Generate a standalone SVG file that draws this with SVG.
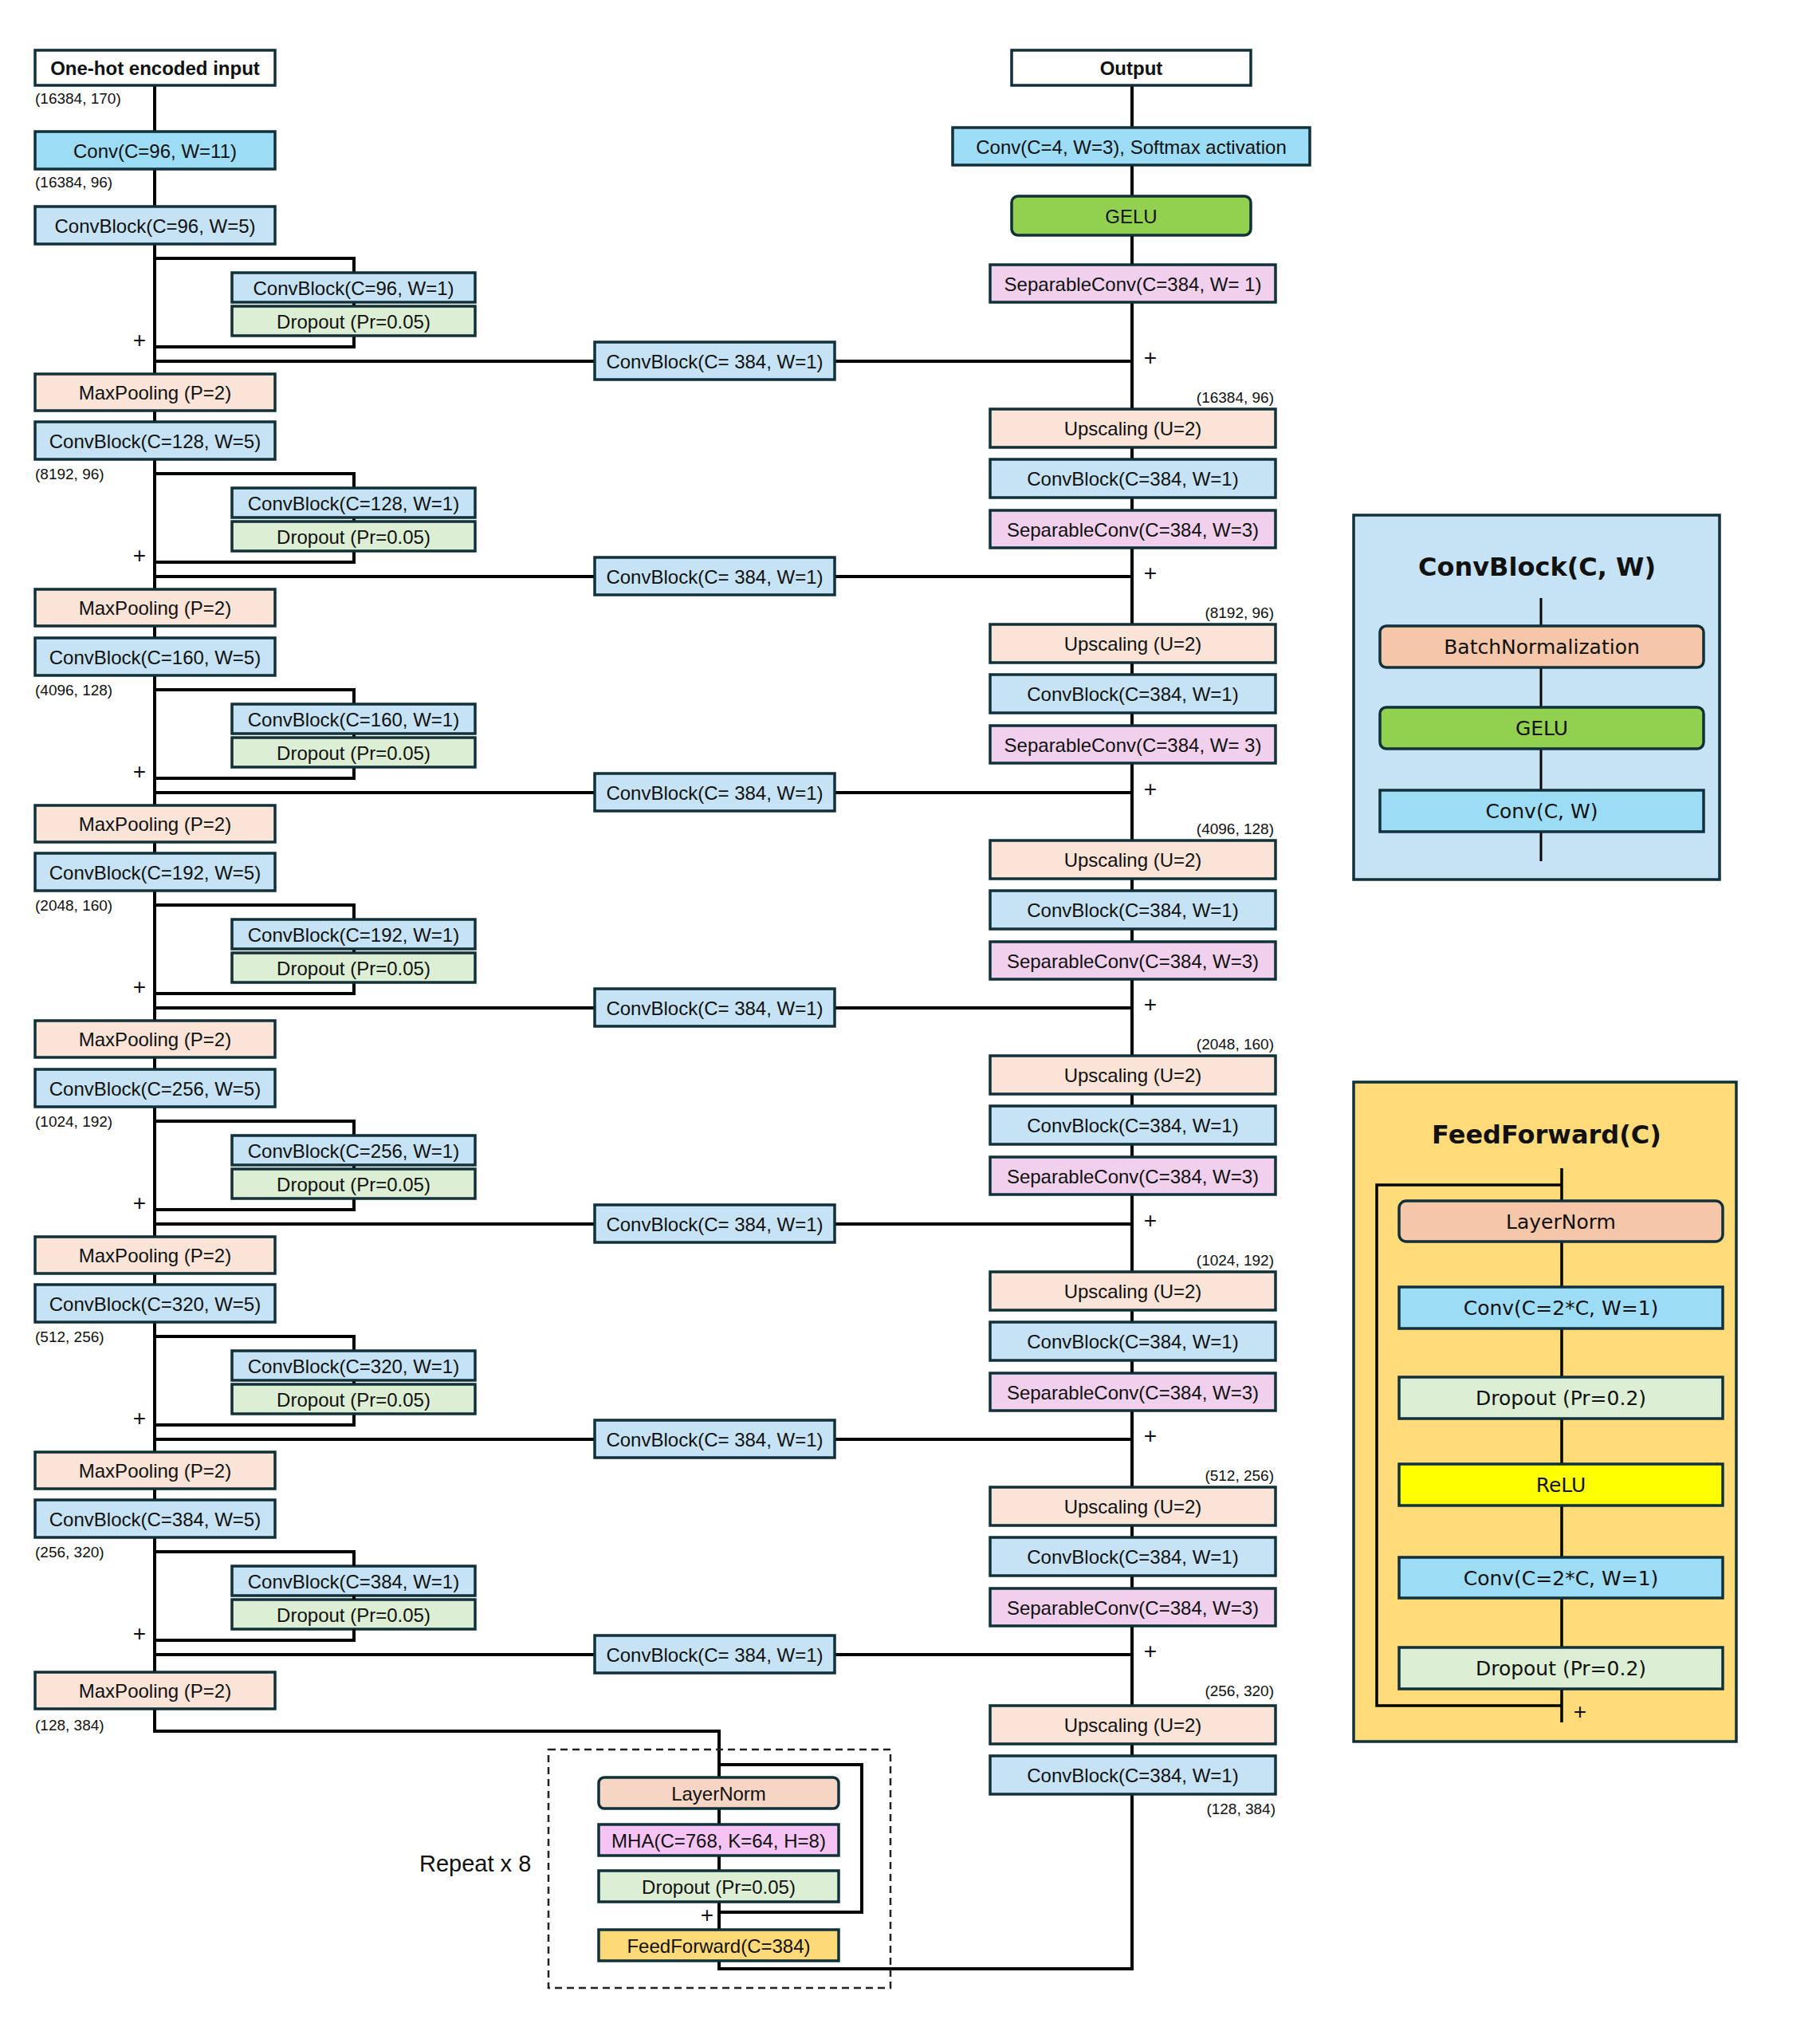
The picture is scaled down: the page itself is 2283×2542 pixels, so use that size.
<svg xmlns="http://www.w3.org/2000/svg" width="2283" height="2542" viewBox="0 0 2283 2542">
<style>
.b{stroke:#10303a;stroke-width:3.5}
.cb{fill:#c5e3f5}.cv{fill:#9ddcf5}.dp{fill:#dcefd4}.mp{fill:#fae3d7}.sc{fill:#f0d0ec}.ln{fill:#f7d5c4}.mha{fill:#f5c4f5}.ff{fill:#fdd978}.ge{fill:#92d050}.wh{fill:#fff}
text{font-family:"Liberation Sans",Arial,sans-serif;fill:#111}
.t{font-size:24px;text-anchor:middle;dominant-baseline:central}
.tb{font-size:24px;font-weight:bold;text-anchor:middle;dominant-baseline:central}
.d{font-size:19px}
.dr{font-size:19px;text-anchor:end}
.p{font-size:28px;text-anchor:middle}
.L{font-family:"DejaVu Sans",sans-serif;font-size:25px;text-anchor:middle;dominant-baseline:central}
.LT{font-family:"DejaVu Sans",sans-serif;font-size:32px;font-weight:bold;text-anchor:middle;dominant-baseline:central}
.w{fill:none;stroke:#000;stroke-width:4}
</style>
<rect width="2283" height="2542" fill="#fff"/>
<g id="connectors" class="w">
<path d="M194 107V2171H902V2229"/>
<path d="M1420 107V2469H902V2459"/>
<path d="M902 2268V2420"/>
<path d="M902 2213H1081V2398H902"/>
<path d="M194 324H444V342M444 379V384M444 421V435H194"/>
<path d="M194 594H444V612M444 649V654M444 691V705H194"/>
<path d="M194 865H444V883M444 920V925M444 962V976H194"/>
<path d="M194 1135H444V1153M444 1190V1195M444 1232V1246H194"/>
<path d="M194 1406H444V1424M444 1461V1466M444 1503V1517H194"/>
<path d="M194 1676H444V1694M444 1731V1736M444 1773V1787H194"/>
<path d="M194 453H1420M194 723H1420M194 994H1420M194 1264H1420M194 1535H1420M194 1805H1420M194 2075H1420"/>
</g>
<g id="left">
<g id="in"><rect class="b wh" x="44" y="63" width="301" height="44"/><text class="tb" x="194.5" y="85">One-hot encoded input</text></g>
<text class="d" x="44" y="130">(16384, 170)</text>
<g id="conv0"><rect class="b cv" x="44" y="165" width="301" height="47"/><text class="t" x="194.5" y="189">Conv(C=96, W=11)</text></g>
<text class="d" x="44" y="235">(16384, 96)</text>
<g id="cb0"><rect class="b cb" x="44" y="259" width="301" height="47"/><text class="t" x="194.5" y="283">ConvBlock(C=96, W=5)</text></g>
<g id="cb1"><rect class="b cb" x="44" y="529" width="301" height="47"/><text class="t" x="194.5" y="553">ConvBlock(C=128, W=5)</text></g>
<g id="cb2"><rect class="b cb" x="44" y="800" width="301" height="47"/><text class="t" x="194.5" y="824">ConvBlock(C=160, W=5)</text></g>
<g id="cb3"><rect class="b cb" x="44" y="1070" width="301" height="47"/><text class="t" x="194.5" y="1094">ConvBlock(C=192, W=5)</text></g>
<g id="cb4"><rect class="b cb" x="44" y="1341" width="301" height="47"/><text class="t" x="194.5" y="1365">ConvBlock(C=256, W=5)</text></g>
<g id="cb5"><rect class="b cb" x="44" y="1611" width="301" height="47"/><text class="t" x="194.5" y="1635">ConvBlock(C=320, W=5)</text></g>
<g id="cb6"><rect class="b cb" x="44" y="1881" width="301" height="47"/><text class="t" x="194.5" y="1905">ConvBlock(C=384, W=5)</text></g>
<text class="d" x="44" y="601">(8192, 96)</text>
<text class="d" x="44" y="872">(4096, 128)</text>
<text class="d" x="44" y="1142">(2048, 160)</text>
<text class="d" x="44" y="1413">(1024, 192)</text>
<text class="d" x="44" y="1683">(512, 256)</text>
<text class="d" x="44" y="1953">(256, 320)</text>
<text class="d" x="44" y="2170">(128, 384)</text>
<g id="br0"><rect class="b cb" x="291" y="342" width="305" height="37"/><text class="t" x="443.5" y="361">ConvBlock(C=96, W=1)</text><rect class="b dp" x="291" y="384" width="305" height="37"/><text class="t" x="443.5" y="403">Dropout (Pr=0.05)</text></g>
<g id="br1"><rect class="b cb" x="291" y="612" width="305" height="37"/><text class="t" x="443.5" y="631">ConvBlock(C=128, W=1)</text><rect class="b dp" x="291" y="654" width="305" height="37"/><text class="t" x="443.5" y="673">Dropout (Pr=0.05)</text></g>
<g id="br2"><rect class="b cb" x="291" y="883" width="305" height="37"/><text class="t" x="443.5" y="902">ConvBlock(C=160, W=1)</text><rect class="b dp" x="291" y="925" width="305" height="37"/><text class="t" x="443.5" y="944">Dropout (Pr=0.05)</text></g>
<g id="br3"><rect class="b cb" x="291" y="1153" width="305" height="37"/><text class="t" x="443.5" y="1172">ConvBlock(C=192, W=1)</text><rect class="b dp" x="291" y="1195" width="305" height="37"/><text class="t" x="443.5" y="1214">Dropout (Pr=0.05)</text></g>
<g id="br4"><rect class="b cb" x="291" y="1424" width="305" height="37"/><text class="t" x="443.5" y="1443">ConvBlock(C=256, W=1)</text><rect class="b dp" x="291" y="1466" width="305" height="37"/><text class="t" x="443.5" y="1485">Dropout (Pr=0.05)</text></g>
<g id="br5"><rect class="b cb" x="291" y="1694" width="305" height="37"/><text class="t" x="443.5" y="1713">ConvBlock(C=320, W=1)</text><rect class="b dp" x="291" y="1736" width="305" height="37"/><text class="t" x="443.5" y="1755">Dropout (Pr=0.05)</text></g>
<g id="br6"><rect class="b cb" x="291" y="1964" width="305" height="37"/><text class="t" x="443.5" y="1983">ConvBlock(C=384, W=1)</text><rect class="b dp" x="291" y="2006" width="305" height="37"/><text class="t" x="443.5" y="2025">Dropout (Pr=0.05)</text></g>
<g class="w"><path d="M194 1946H444V1964M444 2001V2006M444 2043V2057H194"/></g>
<text class="p" x="175" y="436">+</text><text class="p" x="175" y="706">+</text><text class="p" x="175" y="977">+</text><text class="p" x="175" y="1247">+</text><text class="p" x="175" y="1518">+</text><text class="p" x="175" y="1788">+</text><text class="p" x="175" y="2058">+</text>
<g id="mp0"><rect class="b mp" x="44" y="469" width="301" height="46"/><text class="t" x="194.5" y="492">MaxPooling (P=2)</text></g>
<g id="mp1"><rect class="b mp" x="44" y="739" width="301" height="46"/><text class="t" x="194.5" y="762">MaxPooling (P=2)</text></g>
<g id="mp2"><rect class="b mp" x="44" y="1010" width="301" height="46"/><text class="t" x="194.5" y="1033">MaxPooling (P=2)</text></g>
<g id="mp3"><rect class="b mp" x="44" y="1280" width="301" height="46"/><text class="t" x="194.5" y="1303">MaxPooling (P=2)</text></g>
<g id="mp4"><rect class="b mp" x="44" y="1551" width="301" height="46"/><text class="t" x="194.5" y="1574">MaxPooling (P=2)</text></g>
<g id="mp5"><rect class="b mp" x="44" y="1821" width="301" height="46"/><text class="t" x="194.5" y="1844">MaxPooling (P=2)</text></g>
<g id="mp6"><rect class="b mp" x="44" y="2097" width="301" height="46"/><text class="t" x="194.5" y="2120">MaxPooling (P=2)</text></g>
</g>
<g id="mid">
<g id="s0"><rect class="b cb" x="746" y="429" width="301" height="47"/><text class="t" x="896.5" y="453">ConvBlock(C= 384, W=1)</text></g>
<g id="s1"><rect class="b cb" x="746" y="699" width="301" height="47"/><text class="t" x="896.5" y="723">ConvBlock(C= 384, W=1)</text></g>
<g id="s2"><rect class="b cb" x="746" y="970" width="301" height="47"/><text class="t" x="896.5" y="994">ConvBlock(C= 384, W=1)</text></g>
<g id="s3"><rect class="b cb" x="746" y="1240" width="301" height="47"/><text class="t" x="896.5" y="1264">ConvBlock(C= 384, W=1)</text></g>
<g id="s4"><rect class="b cb" x="746" y="1511" width="301" height="47"/><text class="t" x="896.5" y="1535">ConvBlock(C= 384, W=1)</text></g>
<g id="s5"><rect class="b cb" x="746" y="1781" width="301" height="47"/><text class="t" x="896.5" y="1805">ConvBlock(C= 384, W=1)</text></g>
<g id="s6"><rect class="b cb" x="746" y="2051" width="301" height="47"/><text class="t" x="896.5" y="2075">ConvBlock(C= 384, W=1)</text></g>
</g>
<g id="transformer">
<rect x="688" y="2194" width="429" height="299" fill="none" stroke="#222" stroke-width="2.5" stroke-dasharray="9 6"/>
<text x="526" y="2347" style="font-size:29px">Repeat x 8</text>
<g id="tln"><rect class="b ln" x="751" y="2229" width="301" height="39" rx="7"/><text class="t" x="901.5" y="2249">LayerNorm</text></g>
<g id="tmha"><rect class="b mha" x="751" y="2288" width="301" height="39"/><text class="t" x="901.5" y="2308">MHA(C=768, K=64, H=8)</text></g>
<g id="tdp"><rect class="b dp" x="751" y="2346" width="301" height="39"/><text class="t" x="901.5" y="2366">Dropout (Pr=0.05)</text></g>
<text class="p" x="887" y="2411">+</text>
<g id="tff"><rect class="b ff" x="751" y="2420" width="301" height="39"/><text class="t" x="901.5" y="2440">FeedForward(C=384)</text></g>
</g>
<g id="right">
<g id="out"><rect class="b wh" x="1269" y="63" width="300" height="44"/><text class="tb" x="1419" y="85">Output</text></g>
<g id="convout"><rect class="b cv" x="1195" y="160" width="448" height="47"/><text class="t" x="1419" y="184">Conv(C=4, W=3),  Softmax activation</text></g>
<g id="gelu"><rect class="b ge" x="1269" y="246" width="300" height="49" rx="8"/><text class="t" x="1419" y="271">GELU</text></g>
<g id="sep"><rect class="b sc" x="1242" y="332" width="358" height="47"/><text class="t" x="1421" y="356">SeparableConv(C=384, W= 1)</text></g>
<text class="p" x="1443" y="458">+</text><text class="p" x="1443" y="728">+</text><text class="p" x="1443" y="999">+</text><text class="p" x="1443" y="1269">+</text><text class="p" x="1443" y="1540">+</text><text class="p" x="1443" y="1810">+</text><text class="p" x="1443" y="2080">+</text>
<text class="dr" x="1598" y="505">(16384, 96)</text>
<text class="dr" x="1598" y="775">(8192, 96)</text>
<text class="dr" x="1598" y="1046">(4096, 128)</text>
<text class="dr" x="1598" y="1316">(2048, 160)</text>
<text class="dr" x="1598" y="1587">(1024, 192)</text>
<text class="dr" x="1598" y="1857">(512, 256)</text>
<text class="dr" x="1598" y="2127">(256, 320)</text>
<text class="dr" x="1600" y="2275">(128, 384)</text>
<g id="r0"><rect class="b mp" x="1242" y="513" width="358" height="48"/><text class="t" x="1421" y="537">Upscaling (U=2)</text><rect class="b cb" x="1242" y="576" width="358" height="48"/><text class="t" x="1421" y="600">ConvBlock(C=384, W=1)</text><rect class="b sc" x="1242" y="640" width="358" height="47"/><text class="t" x="1421" y="664">SeparableConv(C=384, W=3)</text></g>
<g id="r1"><rect class="b mp" x="1242" y="783" width="358" height="48"/><text class="t" x="1421" y="807">Upscaling (U=2)</text><rect class="b cb" x="1242" y="846" width="358" height="48"/><text class="t" x="1421" y="870">ConvBlock(C=384, W=1)</text><rect class="b sc" x="1242" y="910" width="358" height="47"/><text class="t" x="1421" y="934">SeparableConv(C=384, W= 3)</text></g>
<g id="r2"><rect class="b mp" x="1242" y="1054" width="358" height="48"/><text class="t" x="1421" y="1078">Upscaling (U=2)</text><rect class="b cb" x="1242" y="1117" width="358" height="48"/><text class="t" x="1421" y="1141">ConvBlock(C=384, W=1)</text><rect class="b sc" x="1242" y="1181" width="358" height="47"/><text class="t" x="1421" y="1205">SeparableConv(C=384, W=3)</text></g>
<g id="r3"><rect class="b mp" x="1242" y="1324" width="358" height="48"/><text class="t" x="1421" y="1348">Upscaling (U=2)</text><rect class="b cb" x="1242" y="1387" width="358" height="48"/><text class="t" x="1421" y="1411">ConvBlock(C=384, W=1)</text><rect class="b sc" x="1242" y="1451" width="358" height="47"/><text class="t" x="1421" y="1475">SeparableConv(C=384, W=3)</text></g>
<g id="r4"><rect class="b mp" x="1242" y="1595" width="358" height="48"/><text class="t" x="1421" y="1619">Upscaling (U=2)</text><rect class="b cb" x="1242" y="1658" width="358" height="48"/><text class="t" x="1421" y="1682">ConvBlock(C=384, W=1)</text><rect class="b sc" x="1242" y="1722" width="358" height="47"/><text class="t" x="1421" y="1746">SeparableConv(C=384, W=3)</text></g>
<g id="r5"><rect class="b mp" x="1242" y="1865" width="358" height="48"/><text class="t" x="1421" y="1889">Upscaling (U=2)</text><rect class="b cb" x="1242" y="1928" width="358" height="48"/><text class="t" x="1421" y="1952">ConvBlock(C=384, W=1)</text><rect class="b sc" x="1242" y="1992" width="358" height="47"/><text class="t" x="1421" y="2016">SeparableConv(C=384, W=3)</text></g>
<g id="r6"><rect class="b mp" x="1242" y="2139" width="358" height="48"/><text class="t" x="1421" y="2163">Upscaling (U=2)</text><rect class="b cb" x="1242" y="2202" width="358" height="48"/><text class="t" x="1421" y="2226">ConvBlock(C=384, W=1)</text></g>
</g>
<g id="legend-convblock">
<rect class="b" fill="#c5e3f5" x="1698" y="646" width="459" height="457"/>
<text class="LT" x="1928" y="711">ConvBlock(C, W)</text>
<path d="M1933 750V1080" stroke="#000" stroke-width="3"/>
<rect class="b" fill="#f5c6a8" x="1731" y="785" width="406" height="52" rx="8"/><text class="L" x="1934" y="811">BatchNormalization</text>
<rect class="b ge" x="1731" y="887" width="406" height="52" rx="8"/><text class="L" x="1934" y="913">GELU</text>
<rect class="b cv" x="1731" y="991" width="406" height="52"/><text class="L" x="1934" y="1017">Conv(C, W)</text>
</g>
<g id="legend-feedforward">
<rect class="b" fill="#ffdb7a" x="1698" y="1357" width="480" height="827"/>
<text class="LT" x="1940" y="1423">FeedForward(C)</text>
<path d="M1959 1465V2160M1959 1486H1727V2139H1959" fill="none" stroke="#000" stroke-width="3.5"/>
<rect class="b" fill="#f5c6a8" x="1755" y="1506" width="406" height="51" rx="9"/><text class="L" x="1958" y="1532">LayerNorm</text>
<rect class="b cv" x="1755" y="1614" width="406" height="52"/><text class="L" x="1958" y="1640">Conv(C=2*C, W=1)</text>
<rect class="b dp" x="1755" y="1727" width="406" height="52"/><text class="L" x="1958" y="1753">Dropout (Pr=0.2)</text>
<rect class="b" fill="#ffff00" x="1755" y="1836" width="406" height="52"/><text class="L" x="1958" y="1862">ReLU</text>
<rect class="b cv" x="1755" y="1953" width="406" height="51"/><text class="L" x="1958" y="1979">Conv(C=2*C, W=1)</text>
<rect class="b dp" x="1755" y="2066" width="406" height="52"/><text class="L" x="1958" y="2092">Dropout (Pr=0.2)</text>
<text class="p" x="1982" y="2156">+</text>
</g>
</svg>
